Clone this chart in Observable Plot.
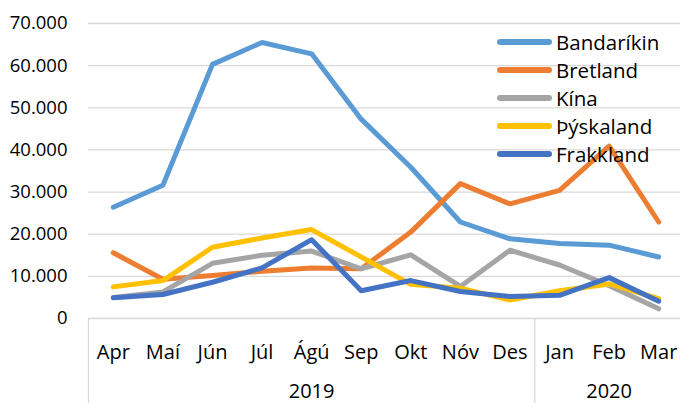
<!DOCTYPE html>
<html>
<head>
<meta charset="utf-8">
<script src="https://cdn.jsdelivr.net/npm/d3@7"></script>
<script src="https://cdn.jsdelivr.net/npm/@observablehq/plot@0.6"></script>
<style>
  html, body { margin: 0; padding: 0; background: #fff; }
  #wrap { position: relative; width: 680px; height: 403px; overflow: hidden; font-family: "Open Sans", sans-serif; }
  #legend { position: absolute; left: 497px; top: 28px; }
  .li { display: flex; align-items: center; height: 28px; font-size: 20.5px; color: #000; }
  .sw { width: 55px; height: 6px; border-radius: 3px; margin-right: 4px; }
</style>
</head>
<body>
<div id="wrap"></div>
<script>
const months = ["Apr","Maí","Jún","Júl","Ágú","Sep","Okt","Nóv","Des","Jan","Feb","Mar"];
const years = [{label: "2019", from: 0, to: 8}, {label: "2020", from: 9, to: 11}];
const seriesNames = ["Bandaríkin","Bretland","Kína","Þýskaland","Frakkland"];
const colors = ["#5B9BD5","#ED7D31","#A5A5A5","#FFC000","#4472C4"];
const bandarikin = [26400,31600,60300,65500,62800,47300,35900,22900,18900,17800,17400,14600];
const bretland   = [15600,9300,10200,11200,12000,11800,20500,32000,27200,30400,40900,22900];
const kina       = [5000,6300,13100,15000,16000,11800,15100,7600,16200,12700,7800,2300];
const thyskaland = [7500,9000,16900,19100,21100,14600,8100,7200,4400,6600,8200,4700];
const frakkland  = [4900,5700,8600,12000,18700,6600,9000,6400,5200,5500,9700,4100];
const yTicks = [0,10000,20000,30000,40000,50000,60000,70000];

const allSeries = [bandarikin, bretland, kina, thyskaland, frakkland];
const rows = [];
allSeries.forEach((vals, s) => vals.forEach((v, i) => rows.push({series: seriesNames[s], i, month: months[i], value: v})));
const monthRows = months.map((m, i) => ({i, m}));
const yearRows = years.map(y => ({label: y.label, c: (y.from + y.to) / 2}));
const seps = [-0.5, years[0].to + 0.5];

const fmt = v => d3.format(",")(v).replace(/,/g, ".");
const font = "'Open Sans', sans-serif";

const chart = Plot.plot({
  width: 680,
  height: 403,
  marginLeft: 88,
  marginRight: 0,
  marginTop: 23,
  marginBottom: 85,
  style: {fontFamily: font, fontSize: "19px", color: "#000", background: "#fff"},
  x: {type: "linear", domain: [-0.5, 11.5], range: [88, 683], axis: null},
  y: {domain: [0, 70000], axis: null},
  color: {domain: seriesNames, range: colors},
  marks: [
    Plot.gridY(yTicks.slice(1), {stroke: "#d9d9d9", strokeOpacity: 1, strokeWidth: 1.3}),
    Plot.ruleY([0], {stroke: "#d9d9d9", strokeWidth: 1.3}),
    Plot.ruleX(seps, {x: d => d, y1: 0, y2: -22000, stroke: "#d9d9d9", strokeWidth: 1.3, clip: false}),
    Plot.text(yTicks, {x: -0.5, y: d => d, text: d => fmt(d), textAnchor: "end", dx: -21, fontSize: 18.5, fill: "#000"}),
    Plot.text(monthRows, {x: "i", y: 0, text: "m", dy: 34, fontSize: 20, fill: "#000"}),
    Plot.text(yearRows, {x: "c", y: 0, text: "label", dy: 73, fontSize: 20, fill: "#000"}),
    Plot.line(rows, {x: "i", y: "value", z: "series", stroke: "series", strokeWidth: 5, strokeLinejoin: "round", strokeLinecap: "round"})
  ]
});

const wrap = document.getElementById("wrap");
wrap.appendChild(chart);
const legend = document.createElement("div");
legend.id = "legend";
seriesNames.forEach((n, k) => {
  const li = document.createElement("div");
  li.className = "li";
  const sw = document.createElement("div");
  sw.className = "sw";
  sw.style.background = colors[k];
  const t = document.createElement("span");
  t.textContent = n;
  li.appendChild(sw);
  li.appendChild(t);
  legend.appendChild(li);
});
wrap.appendChild(legend);
</script>
</body>
</html>
